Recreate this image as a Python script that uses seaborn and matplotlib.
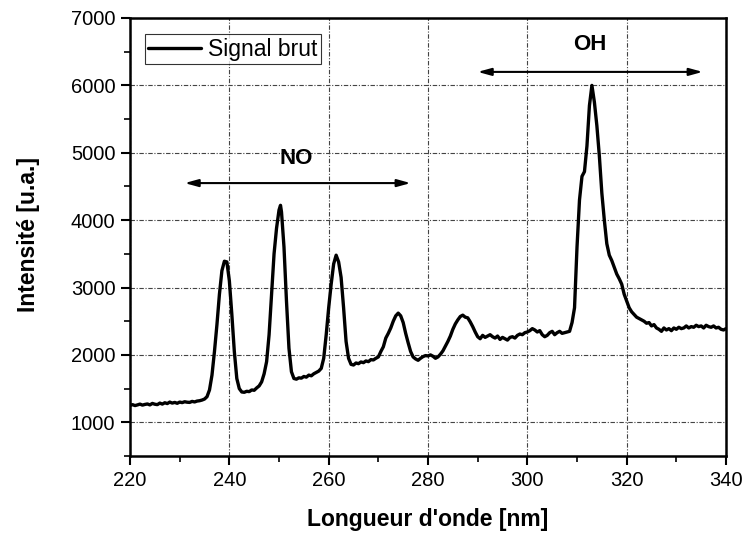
import matplotlib
matplotlib.use("Agg")
import matplotlib.pyplot as plt
import seaborn as sns
import pandas as pd
from matplotlib.ticker import MultipleLocator

wavelength = [
    220.0, 220.5, 221.0, 221.5, 222.0, 222.5, 223.0, 223.5, 224.0, 224.5,
    225.0, 225.5, 226.0, 226.5, 227.0, 227.5, 228.0, 228.5, 229.0, 229.5,
    230.0, 230.5, 231.0, 231.5, 232.0, 232.5, 233.0, 233.5, 234.0, 234.5,
    235.0, 235.5, 236.0, 236.5, 237.0, 237.5, 238.0, 238.5, 239.0, 239.5,
    240.0, 240.5, 241.0, 241.5, 242.0, 242.5, 243.0, 243.5, 244.0, 244.5,
    245.0, 245.5, 246.0, 246.5, 247.0, 247.5, 248.0, 248.5, 249.0, 249.5,
    250.0, 250.3, 250.5, 251.0, 251.5, 252.0, 252.5, 253.0, 253.5, 254.0,
    254.5, 255.0, 255.5, 256.0, 256.5, 257.0, 257.5, 258.0, 258.5, 259.0,
    259.5, 260.0, 260.5, 261.0, 261.5, 262.0, 262.5, 263.0, 263.5, 264.0,
    264.5, 265.0, 265.5, 266.0, 266.5, 267.0, 267.5, 268.0, 268.5, 269.0,
    269.5, 270.0, 270.5, 271.0, 271.5, 272.0, 272.5, 273.0, 273.5, 274.0,
    274.5, 275.0, 275.5, 276.0, 276.5, 277.0, 277.5, 278.0, 278.5, 279.0,
    279.5, 280.0, 280.5, 281.0, 281.5, 282.0, 282.5, 283.0, 283.5, 284.0,
    284.5, 285.0, 285.5, 286.0, 286.5, 287.0, 287.5, 288.0, 288.5, 289.0,
    289.5, 290.0, 290.5, 291.0, 291.5, 292.0, 292.5, 293.0, 293.5, 294.0,
    294.5, 295.0, 295.5, 296.0, 296.5, 297.0, 297.5, 298.0, 298.5, 299.0,
    299.5, 300.0, 300.5, 301.0, 301.5, 302.0, 302.5, 303.0, 303.5, 304.0,
    304.5, 305.0, 305.5, 306.0, 306.5, 307.0, 307.5, 308.0, 308.5, 309.0,
    309.5, 310.0, 310.5, 311.0, 311.5, 312.0, 312.5, 313.0, 313.5, 314.0,
    314.5, 315.0, 315.5, 316.0, 316.5, 317.0, 317.5, 318.0, 318.5, 319.0,
    319.5, 320.0, 320.5, 321.0, 321.5, 322.0, 322.5, 323.0, 323.5, 324.0,
    324.5, 325.0, 325.5, 326.0, 326.5, 327.0, 327.5, 328.0, 328.5, 329.0,
    329.5, 330.0, 330.5, 331.0, 331.5, 332.0, 332.5, 333.0, 333.5, 334.0,
    334.5, 335.0, 335.5, 336.0, 336.5, 337.0, 337.5, 338.0, 338.5, 339.0,
    339.5, 340.0,
]

intensity = [
    1250, 1262, 1248, 1258, 1270, 1255, 1265, 1272, 1258, 1280,
    1268, 1262, 1285, 1270, 1290, 1278, 1300, 1285, 1295, 1282,
    1300, 1292, 1305, 1298, 1295, 1310, 1302, 1315, 1320, 1330,
    1345, 1380, 1480, 1700, 2050, 2450, 2900, 3250, 3390, 3380,
    3100, 2600, 2050, 1650, 1500, 1450, 1445, 1460, 1455, 1480,
    1475, 1510, 1540, 1600, 1720, 1900, 2300, 2900, 3500, 3880,
    4150, 4220, 4120, 3600, 2800, 2100, 1750, 1650, 1640, 1660,
    1655, 1680, 1670, 1700, 1690, 1720, 1740, 1760, 1800, 1950,
    2300, 2700, 3050, 3350, 3480, 3380, 3150, 2700, 2200, 1950,
    1860, 1850, 1880, 1870, 1895, 1885, 1910, 1900, 1930, 1925,
    1950, 1970, 2050, 2120, 2250, 2320, 2400, 2500, 2580, 2620,
    2580, 2480, 2320, 2180, 2050, 1970, 1940, 1920, 1950, 1975,
    1990, 1985, 2000, 1980, 1950, 1970, 2010, 2060, 2130, 2200,
    2280, 2380, 2460, 2520, 2570, 2590, 2560, 2550, 2490, 2420,
    2340, 2270, 2240, 2290, 2260, 2280, 2300, 2270, 2250, 2280,
    2230, 2260, 2240, 2220, 2260, 2270, 2250, 2290, 2310, 2300,
    2330, 2340, 2360, 2390, 2370, 2340, 2360, 2300, 2270, 2290,
    2330, 2350, 2300, 2330, 2350, 2320, 2330, 2340, 2350, 2480,
    2700, 3600, 4300, 4650, 4720, 5100, 5700, 6000, 5750, 5400,
    4950, 4400, 4000, 3650, 3480, 3400, 3300, 3200, 3130, 3050,
    2900, 2800, 2700, 2640, 2600, 2560, 2540, 2520, 2500, 2470,
    2480, 2430, 2450, 2400, 2380, 2350, 2400, 2370, 2390, 2360,
    2400, 2380, 2410, 2390, 2400, 2430, 2400, 2420, 2410, 2440,
    2420, 2430, 2400, 2440, 2420, 2410, 2430, 2400, 2410, 2380,
    2370, 2390,
]

x_ticks = [220, 240, 260, 280, 300, 320, 340]
y_ticks = [1000, 2000, 3000, 4000, 5000, 6000, 7000]

sns.set_style("ticks")
plt.rcParams["font.family"] = ["Liberation Sans", "DejaVu Sans"]
plt.rcParams["text.color"] = "black"
plt.rcParams["axes.labelcolor"] = "black"
plt.rcParams["xtick.color"] = "black"
plt.rcParams["ytick.color"] = "black"

df = pd.DataFrame({"wavelength": wavelength, "intensity": intensity})

fig = plt.figure(figsize=(7.46, 5.34), dpi=100)
ax = fig.add_axes([0.1743, 0.1461, 0.7989, 0.8202])

sns.lineplot(data=df, x="wavelength", y="intensity", ax=ax, color="black",
             linewidth=2.4, label="Signal brut", sort=False)

ax.set_xlim(220, 340)
ax.set_ylim(500, 7000)
ax.set_xticks(x_ticks)
ax.set_yticks(y_ticks)
ax.xaxis.set_minor_locator(MultipleLocator(10))
ax.yaxis.set_minor_locator(MultipleLocator(500))

ax.grid(True, which="major", color="#444444", linewidth=0.8,
        linestyle=(0, (4, 1.5, 1, 1.5)))

for s in ax.spines.values():
    s.set_linewidth(1.8)
    s.set_color("black")

ax.tick_params(which="major", direction="out", length=6.5, width=1.5,
               labelsize=14.5, pad=4, top=False, right=False)
ax.tick_params(which="minor", direction="out", length=4, width=1.2,
               top=False, right=False)

ax.set_xlabel("Longueur d'onde [nm]", fontsize=16.5, fontweight="bold")
ax.set_ylabel("Intensité [u.a.]", fontsize=16.5, fontweight="bold")
ax.xaxis.label.set_va("center")
ax.yaxis.label.set_va("center")
ax.xaxis.set_label_coords(0.5, -0.144)
ax.yaxis.set_label_coords(-0.171, 0.505)

leg = ax.legend(loc="upper left", bbox_to_anchor=(0.025, 0.963), fontsize=16.5,
                frameon=True, fancybox=False, edgecolor="black",
                handlelength=2.3, borderpad=0.15, handletextpad=0.3,
                borderaxespad=0)
leg.get_frame().set_linewidth(0.8)

arrow = dict(arrowstyle="<|-|>,head_length=0.8,head_width=0.22",
             color="black", lw=1.5, shrinkA=0, shrinkB=0)
ax.annotate("", xy=(231, 4550), xytext=(276.5, 4550), arrowprops=arrow)
ax.text(253.5, 4920, "NO", fontsize=16, fontweight="bold",
        ha="center", va="center")
ax.annotate("", xy=(290, 6200), xytext=(335.3, 6200), arrowprops=arrow)
ax.text(312.6, 6600, "OH", fontsize=16, fontweight="bold",
        ha="center", va="center")

fig.savefig("out.png", dpi=100)
